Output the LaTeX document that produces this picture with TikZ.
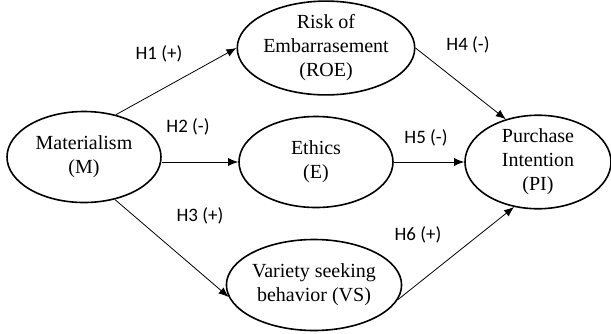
\documentclass[tikz,border=0pt]{standalone}
\usepackage{fontspec}
\setmainfont{Liberation Serif}
\newfontfamily\hypfont{Carlito}
\usetikzlibrary{arrows.meta,shapes.geometric}
\tikzset{
  construct/.style={draw=black, ellipse, line width=1.6pt, inner sep=0pt, align=center,
    minimum width=154pt, minimum height=91pt, font=\fontsize{20}{24}\selectfont},
  hyp/.style={font=\hypfont\fontsize{19}{22}\selectfont},
  arrow/.style={-{Latex[length=10pt,width=8pt]}, line width=0.8pt, draw=black}
}
\begin{document}
\begin{tikzpicture}[x=1pt,y=-1pt]
\useasboundingbox (0,0) rectangle (611,333);
\node[construct] (M) at (84,157) {Materialism\\(M)};
\node[construct] (ROE) at (326,48) {Risk of\\Embarrasement\\(ROE)};
\node[construct] (E) at (316,162) {Ethics\\(E)};
\node[construct] (VS) at (314,285) {Variety seeking\\behavior (VS)};
\node[construct, minimum width=146pt, minimum height=88pt] (PI) at (538,162) {Purchase\\Intention\\(PI)};
\node[hyp] (h1) at (159,54) {H1 (+)};
\node[hyp] (h2) at (188,127) {H2 (-)};
\node[hyp] (h3) at (200,216) {H3 (+)};
\node[hyp] (h4) at (468,45) {H4 (-)};
\node[hyp] (h5) at (426,138) {H5 (-)};
\node[hyp] (h6) at (418,235) {H6 (+)};
\draw[arrow] (M.53) -- (ROE.west);
\draw[arrow] (M.east |- E.west) -- (E.west);
\draw[arrow] (M.-54) -- (VS.188);
\draw[arrow] (ROE.east) -- (PI.127);
\draw[arrow] (E.east) -- (PI.west);
\draw[arrow] (VS.-10) -- (PI.-118);
\end{tikzpicture}
\end{document}
